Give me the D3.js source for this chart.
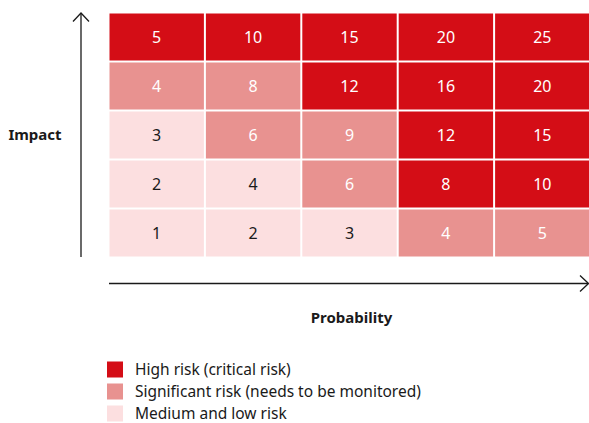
<!DOCTYPE html>
<html>
<head>
<meta charset="utf-8">
<script src="https://cdn.jsdelivr.net/npm/d3@7/dist/d3.min.js"></script>
<style>
  html, body { margin: 0; padding: 0; background: #fff; }
  svg { display: block; font-family: "Source Sans Pro", "Noto Sans", "Open Sans", sans-serif; }
</style>
</head>
<body>
<svg id="chart" width="589" height="423"></svg>
<script>
// Probability (columns) and impact (rows) levels
const probability = [1, 2, 3, 4, 5];
const impact = [1, 2, 3, 4, 5];

// Risk class per cell, rows listed from impact 5 down to impact 1
// 0 = medium/low, 1 = significant, 2 = high
const riskLevels = [
  [2, 2, 2, 2, 2],
  [1, 1, 2, 2, 2],
  [0, 1, 1, 2, 2],
  [0, 0, 1, 2, 2],
  [0, 0, 0, 1, 1]
];

const legendLabels = [
  "High risk (critical risk)",
  "Significant risk (needs to be monitored)",
  "Medium and low risk"
];
const levelColors = ["#fcdfe0", "#e89290", "#d40d16"];
const levelText = ["#1a1a1a", "#ffffff", "#ffffff"];

const svg = d3.select("#chart");

const gridLeft = 108.5, gridRight = 590.5, gridTop = 12.5, gridBottom = 257.5;

const x = d3.scaleBand().domain(probability).range([gridLeft, gridRight]).paddingInner(0);
const y = d3.scaleBand().domain(impact.slice().reverse()).range([gridTop, gridBottom]).paddingInner(0);

const cells = [];
impact.slice().reverse().forEach((imp, ri) => {
  probability.forEach((p, ci) => {
    cells.push({ p, imp, value: p * imp, level: riskLevels[ri][ci] });
  });
});

const gap = 2;
const cell = svg.append("g").selectAll("g").data(cells).join("g");
cell.append("rect")
  .attr("x", d => x(d.p) + gap / 2)
  .attr("y", d => y(d.imp) + gap / 2)
  .attr("width", x.bandwidth() - gap)
  .attr("height", y.bandwidth() - gap)
  .attr("fill", d => levelColors[d.level]);
cell.append("text")
  .attr("x", d => x(d.p) + x.bandwidth() / 2)
  .attr("y", d => y(d.imp) + y.bandwidth() / 2)
  .attr("text-anchor", "middle")
  .attr("dominant-baseline", "central")
  .attr("font-size", 16)
  .attr("fill", d => levelText[d.level])
  .text(d => d.value);

// Axis arrows
const axisG = svg.append("g").attr("stroke", "#1a1a1a").attr("fill", "none").attr("stroke-width", 1.3);
axisG.append("line").attr("x1", 81).attr("x2", 81).attr("y1", 13).attr("y2", 257);
axisG.append("path").attr("d", "M73,21.5 L81,13 L89,21.5");
axisG.append("line").attr("x1", 109).attr("x2", 588).attr("y1", 283.5).attr("y2", 283.5);
axisG.append("path").attr("d", "M580,275.5 L588.5,283.5 L580,291.5");

svg.append("text")
  .attr("x", 35).attr("y", 134)
  .attr("text-anchor", "middle").attr("dominant-baseline", "central")
  .attr("font-size", 15).attr("font-weight", "bold").attr("fill", "#1a1a1a")
  .text("Impact");

svg.append("text")
  .attr("x", (gridLeft + gridRight) / 2 + 2).attr("y", 317)
  .attr("text-anchor", "middle").attr("dominant-baseline", "central")
  .attr("font-size", 15).attr("font-weight", "bold").attr("fill", "#1a1a1a")
  .text("Probability");

// Legend
const legend = svg.append("g").selectAll("g")
  .data(legendLabels)
  .join("g")
  .attr("transform", (d, i) => `translate(107, ${361.5 + i * 22})`);
legend.append("rect")
  .attr("width", 16).attr("height", 16)
  .attr("fill", (d, i) => levelColors[2 - i]);
legend.append("text")
  .attr("x", 28).attr("y", 13.5)
  .attr("font-size", 15.5).attr("fill", "#1a1a1a")
  .text(d => d);
</script>
</body>
</html>
